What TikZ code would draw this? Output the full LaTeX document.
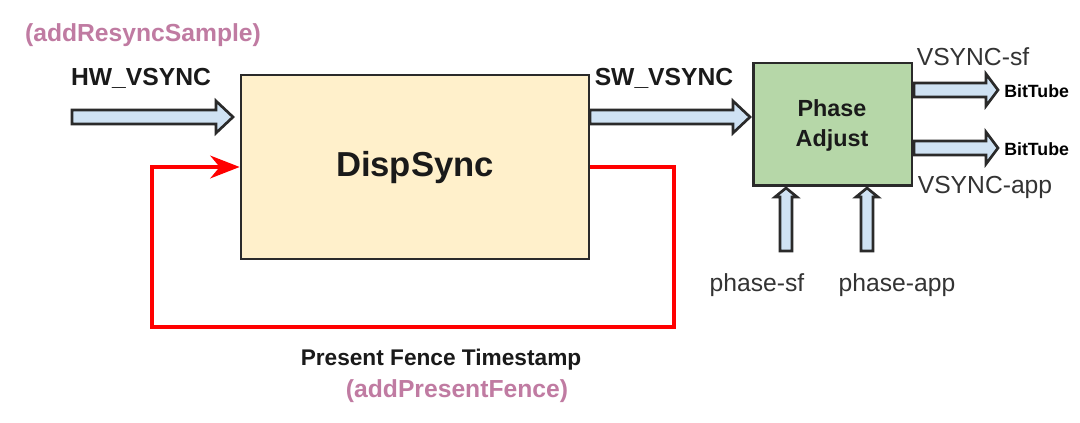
\documentclass[tikz,border=0pt]{standalone}
\usepackage{fontspec}
\setmainfont{Liberation Sans}
\usetikzlibrary{arrows.meta,calc}
\definecolor{dsfill}{HTML}{FFF0CB}
\definecolor{pafill}{HTML}{B6D7A8}
\definecolor{arfill}{HTML}{CFE2F3}
\definecolor{pinktxt}{HTML}{C07BA2}
\definecolor{edge}{HTML}{2A2A2A}
\definecolor{txt}{HTML}{1A1A1A}
\definecolor{gtxt}{HTML}{333333}
\tikzset{
  box/.style={draw=edge, line width=2pt, inner sep=0pt},
  fat/.style={draw=edge, fill=arfill, line width=2pt, line join=miter},
  bigtxt/.style={font=\fontsize{18.5}{20}\selectfont\bfseries, text=txt, inner sep=0pt},
  regtxt/.style={font=\fontsize{18.5}{20}\selectfont, text=gtxt, inner sep=0pt},
  pinklbl/.style={font=\fontsize{18.5}{20}\selectfont\bfseries, text=pinktxt, inner sep=0pt},
  redline/.style={draw=red, line width=3pt, line join=miter},
}
% horizontal fat arrow: x1, x2, y, head length
\newcommand{\fatH}[4]{\draw[fat] (#1,{#3-7}) -- ({#2-#4},{#3-7}) -- ({#2-#4},{#3-16}) -- (#2,#3) -- ({#2-#4},{#3+16}) -- ({#2-#4},{#3+7}) -- (#1,{#3+7}) -- cycle;}
% vertical fat arrow pointing up: x, ybottom, ytip
\newcommand{\fatV}[3]{\draw[fat] ({#1-6},#2) -- ({#1-6},{#3+9}) -- ({#1-11},{#3+9}) -- (#1,#3) -- ({#1+11},{#3+9}) -- ({#1+6},{#3+9}) -- ({#1+6},#2) -- cycle;}
\begin{document}
\begin{tikzpicture}[x=0.75pt,y=-0.75pt]
\useasboundingbox (0,0) rectangle (1080,423);
\fill[white] (0,0) rectangle (1080,423);

% boxes
\node[box, fill=dsfill, minimum width=261pt, minimum height=138pt] (ds) at (415,167) {};
\node[font=\fontsize{26}{28}\selectfont\bfseries, text=txt] (dslbl) at (415,168) {DispSync};
\node[box, fill=pafill, minimum width=119pt, minimum height=92pt] (pa) at (832.5,124.5) {};
\node[bigtxt, align=center, font=\fontsize{17.5}{22.5}\selectfont\bfseries] (palbl) at (832,125) {Phase\\Adjust};

% labels
\node[pinklbl] (resync) at (143,35) {(addResyncSample)};
\node[bigtxt] (hw) at (141,78) {HW\_VSYNC};
\node[bigtxt] (sw) at (664,78) {SW\_VSYNC};
\node[regtxt] (vsf) at (973,57) {VSYNC-sf};
\node[regtxt] (vapp) at (985,187) {VSYNC-app};
\node[font=\fontsize{13.3}{15}\selectfont\bfseries, text=black, inner sep=0pt, anchor=west] (bt1) at (1004,91) {BitTube};
\node[font=\fontsize{13.3}{15}\selectfont\bfseries, text=black, inner sep=0pt, anchor=west] (bt2) at (1004,149) {BitTube};
\node[regtxt] (psf) at (757,285) {phase-sf};
\node[regtxt] (papp) at (897,285) {phase-app};
\node[bigtxt, font=\fontsize{17}{19}\selectfont\bfseries] (pft) at (441,360) {Present Fence Timestamp};
\node[pinklbl] (apf) at (457,391) {(addPresentFence)};

% fat arrows
\fatH{72}{233}{117}{17}
\fatH{590}{750}{117}{17}
\fatH{914}{998}{90}{12}
\fatH{914}{998}{148}{12}
\fatV{786}{251}{188}
\fatV{867}{251}{188}

% red feedback loop
\coordinate (r1) at (674,167);
\coordinate (r2) at (674,327);
\coordinate (r3) at (152,327);
\coordinate (r4) at (152,167);
\draw[redline, -{Stealth[length=22pt,width=17pt,inset=7pt]}]
  (ds.east |- r1) -- (r1) -- (r2) -- (r3) -- (r4) -- (ds.west |- r4);
\end{tikzpicture}
\end{document}
